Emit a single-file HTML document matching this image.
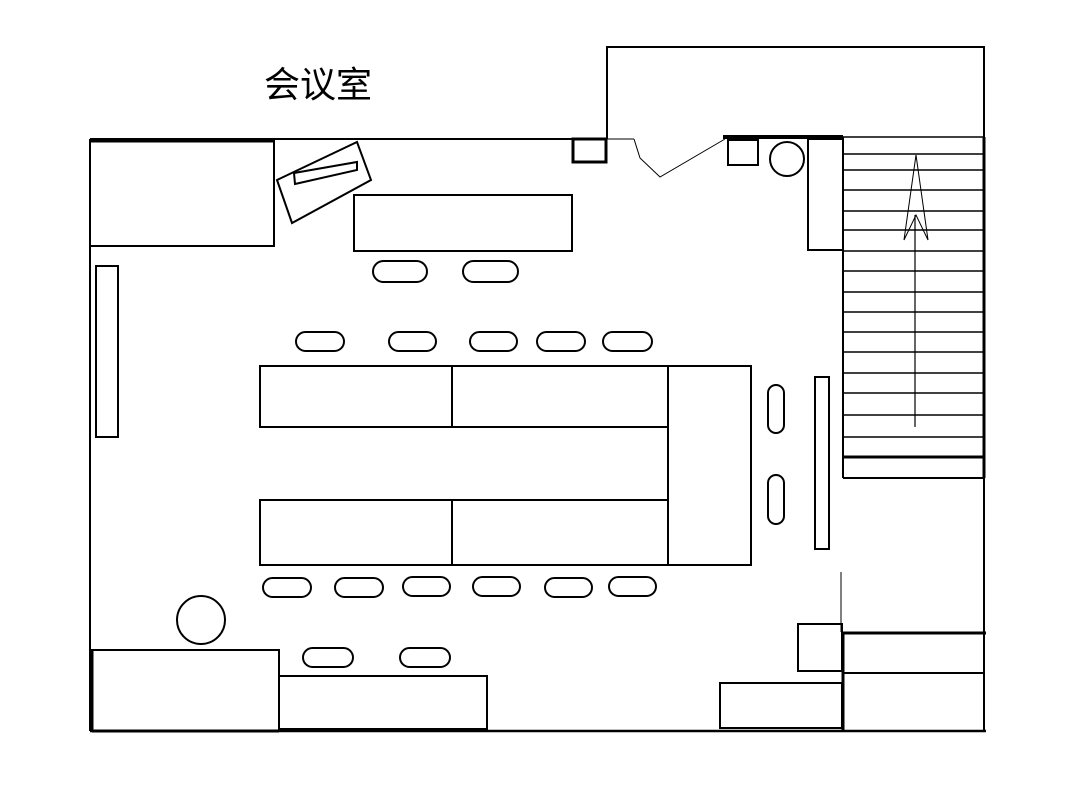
<!DOCTYPE html>
<html><head><meta charset="utf-8"><style>html,body{margin:0;padding:0;background:#fff}svg{display:block}</style></head>
<body>
<svg width="1080" height="790" viewBox="0 0 1080 790" xmlns="http://www.w3.org/2000/svg">
<rect width="1080" height="790" fill="#fff"/>
<text x="264" y="97" font-family="'Liberation Sans','Noto Sans CJK SC',sans-serif" font-size="36" fill="#000">会议室</text>
<g fill="none" stroke="#000" stroke-width="2">
<polyline points="90,139 607,139"/>
<polyline points="90,139 90,731"/>
<polyline points="90,731 986,731" stroke-width="2.5"/>
<polyline points="607,139 607,47 984,47 984,731"/>
<line x1="607" y1="139" x2="634" y2="139" stroke-width="1"/>
<polyline points="634,139 640,158 660,177 725,139" stroke-width="1"/>
<line x1="723" y1="137" x2="843" y2="137" stroke-width="4"/>
<line x1="984" y1="137" x2="984" y2="478" stroke-width="3"/>
<rect x="573" y="139" width="33" height="23" stroke-width="3"/>
<rect x="728" y="140" width="30" height="25"/>
<circle cx="787" cy="159" r="17"/>
<rect x="808" y="139" width="35" height="111"/>
<line x1="843" y1="137" x2="843" y2="478"/>
<g stroke-width="1.5">
<line x1="843" y1="137" x2="984" y2="137"/>
<line x1="843" y1="154" x2="984" y2="154"/>
<line x1="843" y1="170" x2="984" y2="170"/>
<line x1="843" y1="190" x2="984" y2="190"/>
<line x1="843" y1="211" x2="984" y2="211"/>
<line x1="843" y1="230" x2="984" y2="230"/>
<line x1="843" y1="251" x2="984" y2="251"/>
<line x1="843" y1="271" x2="984" y2="271"/>
<line x1="843" y1="292" x2="984" y2="292"/>
<line x1="843" y1="312" x2="984" y2="312"/>
<line x1="843" y1="332" x2="984" y2="332"/>
<line x1="843" y1="352" x2="984" y2="352"/>
<line x1="843" y1="373" x2="984" y2="373"/>
<line x1="843" y1="393" x2="984" y2="393"/>
<line x1="843" y1="415" x2="984" y2="415"/>
<line x1="843" y1="437" x2="984" y2="437"/>
</g>
<line x1="843" y1="457" x2="984" y2="457" stroke-width="3"/>
<line x1="843" y1="478" x2="984" y2="478"/>
<line x1="915" y1="215" x2="915" y2="427" stroke-width="1.2"/>
<polygon points="916,155 904,240 916,215 928,240" stroke-width="1"/>
<line x1="90" y1="141" x2="274" y2="141" stroke-width="3"/>
<rect x="90" y="141" width="184" height="105"/>
<polygon points="277,180 357,142 371,180 292,223"/>
<polygon points="294,173 357,162 357,170 295,184"/>
<rect x="354" y="195" width="218" height="56"/>
<rect x="96" y="266" width="22" height="171"/>
<g>
<rect x="373" y="261" width="54" height="21" rx="10.5"/>
<rect x="463" y="261" width="55" height="21" rx="10.5"/>
<rect x="296" y="332" width="48" height="19" rx="9.5"/>
<rect x="389" y="332" width="47" height="19" rx="9.5"/>
<rect x="470" y="332" width="47" height="19" rx="9.5"/>
<rect x="537" y="332" width="48" height="19" rx="9.5"/>
<rect x="603" y="332" width="49" height="19" rx="9.5"/>
<rect x="263" y="578" width="48" height="19" rx="9.5"/>
<rect x="335" y="578" width="48" height="19" rx="9.5"/>
<rect x="403" y="577" width="47" height="19" rx="9.5"/>
<rect x="473" y="577" width="47" height="19" rx="9.5"/>
<rect x="545" y="578" width="47" height="19" rx="9.5"/>
<rect x="609" y="577" width="47" height="19" rx="9.5"/>
<rect x="303" y="648" width="50" height="19" rx="9.5"/>
<rect x="400" y="648" width="50" height="19" rx="9.5"/>
<rect x="768" y="385" width="16" height="48" rx="8"/>
<rect x="768" y="475" width="16" height="49" rx="8"/>
</g>
<rect x="260" y="366" width="192" height="61"/>
<rect x="452" y="366" width="216" height="61"/>
<rect x="260" y="500" width="192" height="65"/>
<rect x="452" y="500" width="216" height="65"/>
<rect x="668" y="366" width="83" height="199"/>
<rect x="815" y="377" width="14" height="172"/>
<circle cx="201" cy="620" r="24"/>
<rect x="92" y="650" width="187" height="81"/>
<line x1="92" y1="650" x2="92" y2="731" stroke-width="3"/>
<line x1="92" y1="731" x2="279" y2="731" stroke-width="3"/>
<rect x="279" y="676" width="208" height="53"/>
<line x1="841" y1="572" x2="841" y2="632" stroke-width="1"/>
<line x1="841" y1="633" x2="986" y2="633" stroke-width="3"/>
<rect x="798" y="624" width="44" height="47"/>
<line x1="843" y1="633" x2="843" y2="731" stroke-width="3"/>
<line x1="843" y1="673" x2="984" y2="673"/>
<rect x="720" y="683" width="122" height="45"/>
</g>
</svg>
</body></html>
